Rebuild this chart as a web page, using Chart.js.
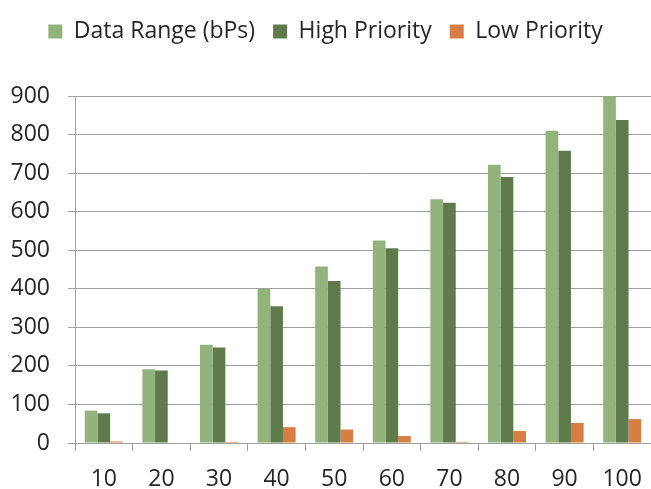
<!DOCTYPE html>
<html>
<head>
<meta charset="utf-8">
<script src="https://cdn.jsdelivr.net/npm/chart.js@4.4.0/dist/chart.umd.min.js"></script>
<style>
  html, body { margin: 0; padding: 0; background: #fff; }
  #wrap { width: 651px; height: 489px; }
</style>
</head>
<body>
<div id="wrap"><canvas id="chart" width="651" height="489"></canvas></div>
<script>
const categories = ["10","20","30","40","50","60","70","80","90","100"];
const dataRange = [84, 191, 255, 400, 458, 525, 632, 722, 810, 900];
const highPriority = [77, 188, 248, 355, 420, 505, 623, 690, 758, 838];
const lowPriority = [4, 0, 3, 41, 35, 18, 3, 31, 52, 62];

const gridGray = "#a0a0a0";
const legendFont = { family: "Open Sans", size: 23 };
const tickFont = { family: "Open Sans", size: 23 };

// fixed legend block height so the plot starts where the reference does
const legendHeight = {
  id: "legendHeight",
  beforeLayout(chart) {
    const lg = chart.legend;
    if (lg && !lg._patched) {
      const fit = lg.fit;
      lg.fit = function () { fit.call(this); this.height = 94; };
      lg._patched = true;
    }
  }
};

new Chart(document.getElementById("chart").getContext("2d"), {
  type: "bar",
  data: {
    labels: categories,
    datasets: [
      { label: "Data Range (bPs)", data: dataRange, backgroundColor: "#93b37c" },
      { label: "High Priority", data: highPriority, backgroundColor: "#5f7b4c" },
      { label: "Low Priority", data: lowPriority, backgroundColor: "#d77e44" }
    ]
  },
  options: {
    responsive: false,
    animation: false,
    layout: { padding: { top: 2, right: 0, left: 0, bottom: 0 } },
    datasets: { bar: { categoryPercentage: 0.66, barPercentage: 1.0 } },
    plugins: {
      tooltip: { enabled: false },
      legend: {
        position: "top",
        labels: { font: legendFont, color: "#262626", boxWidth: 14, boxHeight: 14, padding: 18 }
      }
    },
    scales: {
      x: {
        afterFit: s => { s.height = 46; s.paddingLeft = 0; s.paddingRight = 0; },
        grid: { display: true, drawOnChartArea: false, drawTicks: true, tickLength: 8, color: gridGray, offset: true },
        border: { color: gridGray },
        ticks: { font: tickFont, color: "#262626", padding: 15 }
      },
      y: {
        min: 0, max: 900,
        afterFit: s => { s.width = 75; },
        grid: { color: gridGray, tickLength: 7 },
        border: { color: gridGray },
        ticks: { stepSize: 100, font: tickFont, color: "#262626", padding: 18 }
      }
    }
  },
  plugins: [legendHeight]
});
</script>
</body>
</html>
